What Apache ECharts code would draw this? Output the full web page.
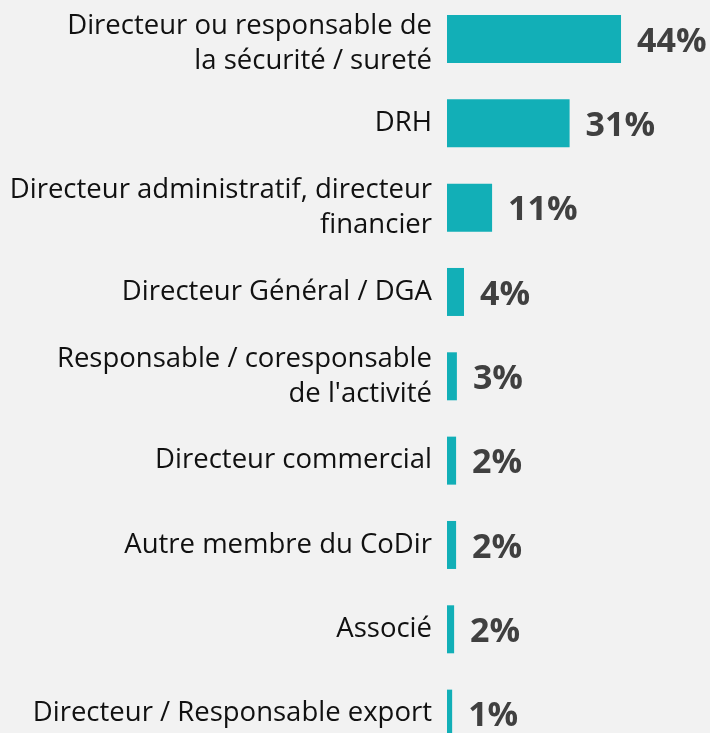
<!DOCTYPE html>
<html>
<head>
    <meta charset="utf-8">
    <title>ECharts</title>
    <script src="https://cdn.jsdelivr.net/npm/echarts@6/dist/echarts.min.js"></script>
    <style>
        html, body { margin: 0; padding: 0; background: #f2f2f2; }
    </style>
</head>
<body>
    <div id="main" style="width: 710px;height:733px;"></div>
    <script type="text/javascript">
        // categories (top to bottom)
        var categories = [
            "Directeur ou responsable de\nla sécurité / sureté",
            "DRH",
            "Directeur administratif, directeur\nfinancier",
            "Directeur Général / DGA",
            "Responsable / coresponsable\nde l'activité",
            "Directeur commercial",
            "Autre membre du CoDir",
            "Associé",
            "Directeur / Responsable export"
        ]
        // bar values (%)
        var values = [44, 31, 11.4, 4.3, 2.5, 2.3, 2.3, 1.8, 1.3]
        // printed labels
        var labels = ["44%", "31%", "11%", "4%", "3%", "2%", "2%", "2%", "1%"]

        var myChart = echarts.init(document.getElementById("main"))

        var option = {
            backgroundColor: "#f2f2f2",
            grid: {
                left: 447,
                top: -3.2,
                width: 237.3,
                height: 759,
                containLabel: false,
                outerBoundsMode: "none"
            },
            xAxis: {
                type: "value",
                min: 0,
                max: 60,
                show: false
            },
            yAxis: {
                type: "category",
                data: categories,
                inverse: true,
                axisLine: { show: false },
                axisTick: { show: false },
                axisLabel: {
                    margin: 15,
                    fontFamily: "Open Sans",
                    fontSize: 27.5,
                    lineHeight: 35,
                    color: "#111111",
                    align: "right",
                    // the first label sits a bit lower than its bar in the original:
                    // a thin spacer line on top pushes it down
                    formatter: function (v, i) {
                        if (i === 0) return "{s| }\n" + v
                        return v
                    },
                    rich: {
                        s: { fontSize: 4, lineHeight: 10 }
                    }
                }
            },
            series: [
                {
                    type: "bar",
                    data: values,
                    barWidth: 48,
                    itemStyle: { color: "#12afb7" },
                    label: {
                        show: true,
                        position: "right",
                        distance: 16,
                        offset: [0, 3],
                        fontFamily: "Open Sans",
                        fontWeight: "bold",
                        fontSize: 34,
                        color: "#404040",
                        formatter: function (p) {
                            return labels[p.dataIndex]
                        }
                    }
                }
            ]
        }
        myChart.setOption(option)
    </script>
</body>
</html>
